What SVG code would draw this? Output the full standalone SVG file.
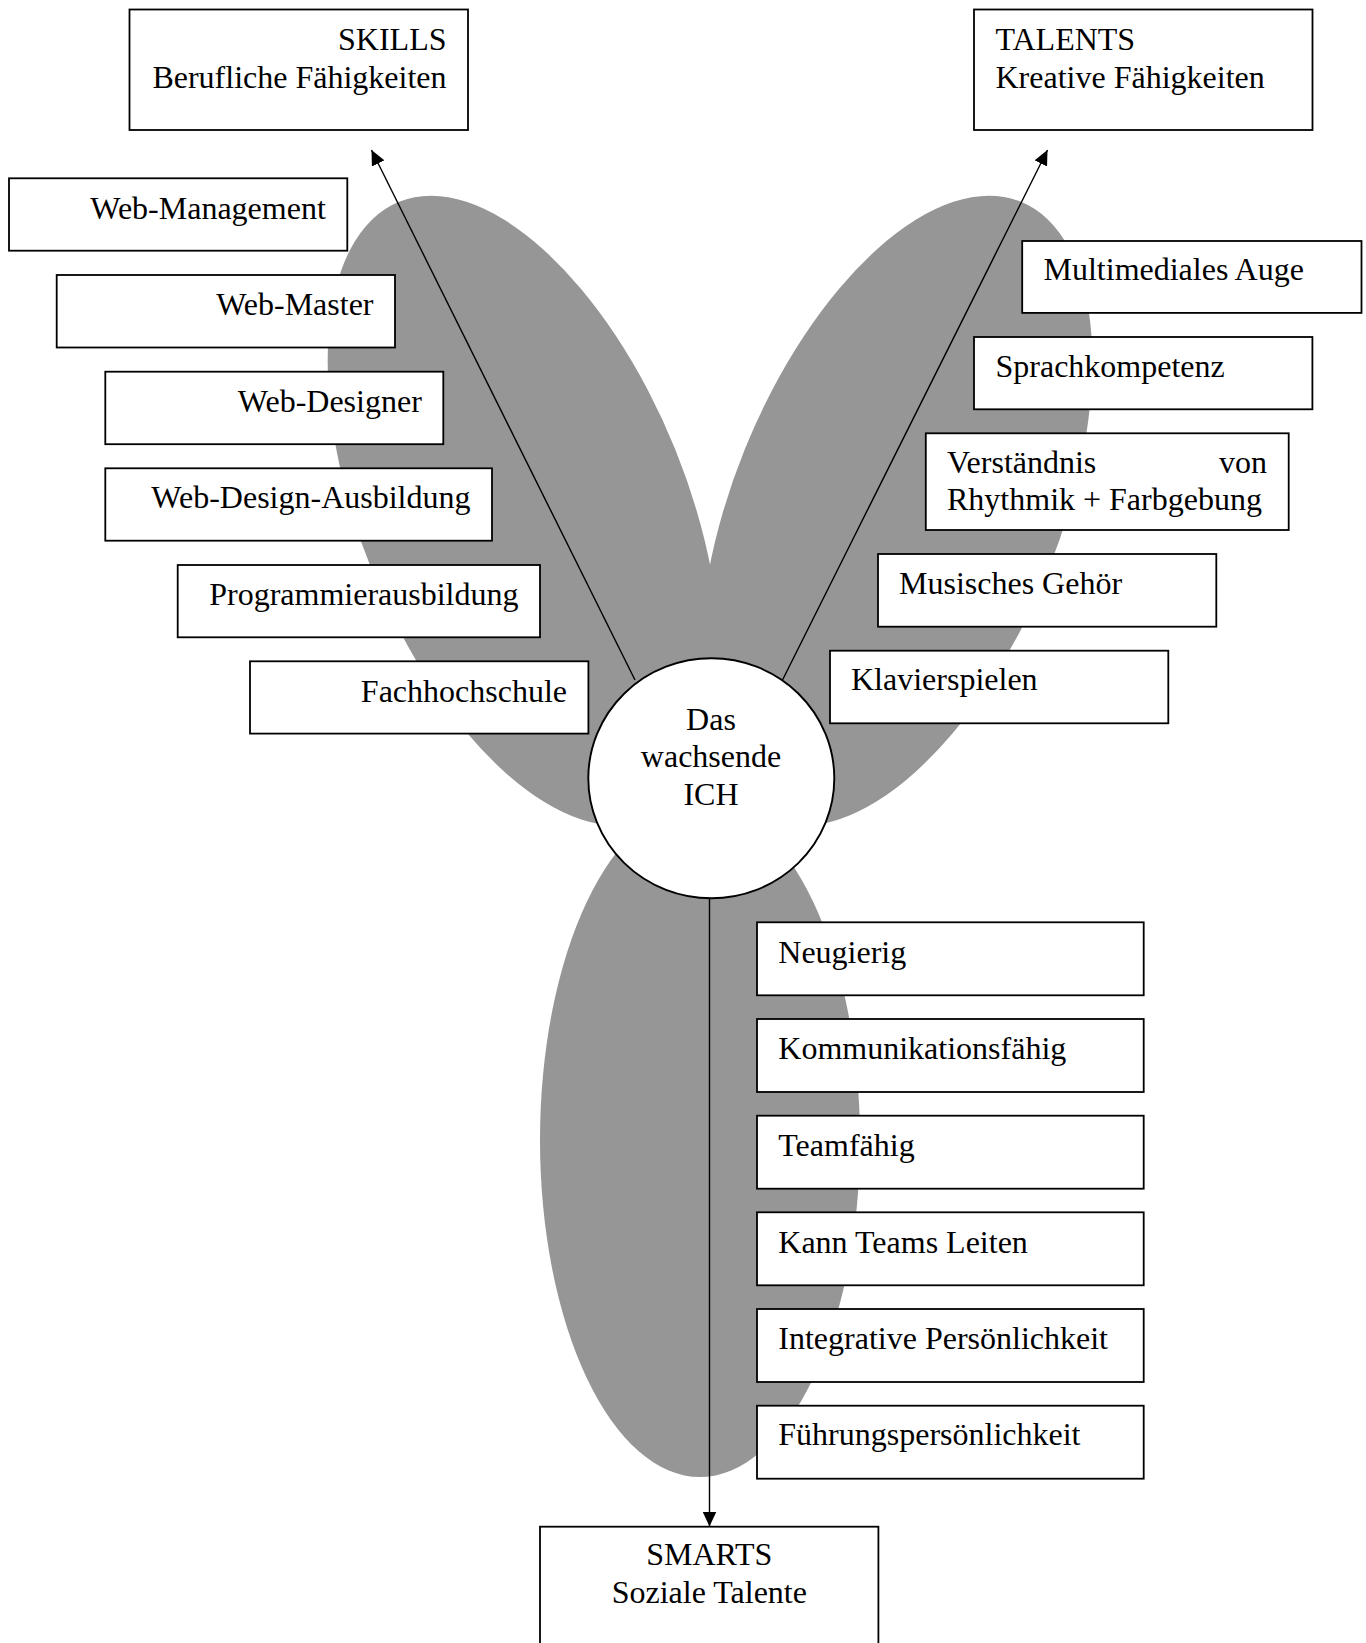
<svg xmlns="http://www.w3.org/2000/svg" width="1366" height="1643" viewBox="0 0 1366 1643">
  <style>
    .lobe { fill: #969696; stroke: none; }
    .box { fill: #ffffff; stroke: #000000; stroke-width: 1.8; }
    .core { fill: #ffffff; stroke: #000000; stroke-width: 1.9; }
    .edge { fill: none; stroke: #000000; stroke-width: 1.4; marker-end: url(#arrow); }
    text { font-family: "Liberation Serif", "Times New Roman", serif; font-size: 32px; fill: #000000; }
    .r { text-anchor: end; }
    .c { text-anchor: middle; }
  </style>
  <defs>
    <marker id="arrow" viewBox="0 0 15 14" refX="15" refY="7" markerWidth="15" markerHeight="14" markerUnits="userSpaceOnUse" orient="auto">
      <path d="M0,0 L15,7 L0,14 z" fill="#000000"/>
    </marker>
  </defs>

  <rect x="0" y="0" width="1366" height="1643" fill="#ffffff"/>

  <!-- grey petals behind the centre -->
  <g id="petals">
    <ellipse class="lobe" cx="0" cy="0" rx="163.3" ry="333.2" transform="translate(523.9,510.7) rotate(-22)"/>
    <ellipse class="lobe" cx="0" cy="0" rx="163.3" ry="333.2" transform="translate(896.1,510.7) rotate(22)"/>
    <ellipse class="lobe" cx="700" cy="1140" rx="160" ry="337"/>
  </g>

  <!-- arrows from the centre to the three categories -->
  <g id="connectors">
    <line class="edge" x1="635" y1="680" x2="371.5" y2="150"/>
    <line class="edge" x1="782.5" y1="680" x2="1047.5" y2="150"/>
    <line class="edge" x1="709.5" y1="898" x2="709.5" y2="1526.5"/>
  </g>

  <!-- category boxes -->
  <g id="skills">
    <rect class="box" x="129.5" y="9.5" width="338.5" height="120.5"/>
    <text class="r" x="446.5" y="49.5">SKILLS</text>
    <text class="r" x="446.5" y="87.5">Berufliche Fähigkeiten</text>
  </g>
  <g id="talents">
    <rect class="box" x="974" y="9.5" width="338.5" height="120.5"/>
    <text x="995.5" y="49.5">TALENTS</text>
    <text x="995.5" y="87.5">Kreative Fähigkeiten</text>
  </g>
  <g id="smarts">
    <rect class="box" x="540" y="1526.7" width="338.4" height="125"/>
    <text class="c" x="709.3" y="1565">SMARTS</text>
    <text class="c" x="709.3" y="1602.7">Soziale Talente</text>
  </g>

  <!-- professional skills -->
  <g id="web-management">
    <rect class="box" x="9" y="178.3" width="338.3" height="72.4"/>
    <text class="r" x="325.8" y="218.5">Web-Management</text>
  </g>
  <g id="web-master">
    <rect class="box" x="56.7" y="275" width="338.3" height="72.5"/>
    <text class="r" x="373.5" y="315">Web-Master</text>
  </g>
  <g id="web-designer">
    <rect class="box" x="105.3" y="371.7" width="338" height="72.5"/>
    <text class="r" x="421.8" y="411.5">Web-Designer</text>
  </g>
  <g id="web-design-ausbildung">
    <rect class="box" x="105.3" y="468.3" width="386.7" height="72.4"/>
    <text class="r" x="470.5" y="508.3">Web-Design-Ausbildung</text>
  </g>
  <g id="programmierausbildung">
    <rect class="box" x="177.7" y="565" width="362.3" height="72.3"/>
    <text class="r" x="518.5" y="605">Programmierausbildung</text>
  </g>
  <g id="fachhochschule">
    <rect class="box" x="250" y="661.3" width="338.4" height="72.3"/>
    <text class="r" x="567" y="701.5">Fachhochschule</text>
  </g>

  <!-- creative talents -->
  <g id="multimediales-auge">
    <rect class="box" x="1022.2" y="241" width="339.3" height="71.9"/>
    <text x="1043.5" y="280">Multimediales Auge</text>
  </g>
  <g id="sprachkompetenz">
    <rect class="box" x="974" y="337" width="338.4" height="72.3"/>
    <text x="995.5" y="377">Sprachkompetenz</text>
  </g>
  <g id="verstaendnis">
    <rect class="box" x="925.8" y="433.3" width="362.9" height="96.7"/>
    <text x="947" y="472.7">Verständnis</text>
    <text class="r" x="1267" y="472.7">von</text>
    <text x="947" y="510">Rhythmik + Farbgebung</text>
  </g>
  <g id="musisches-gehoer">
    <rect class="box" x="878" y="554" width="338.3" height="72.7"/>
    <text x="899" y="594.3">Musisches Gehör</text>
  </g>
  <g id="klavierspielen">
    <rect class="box" x="830" y="650.7" width="338.3" height="72.6"/>
    <text x="851" y="690">Klavierspielen</text>
  </g>

  <!-- social talents -->
  <g id="neugierig">
    <rect class="box" x="757" y="922.3" width="386.7" height="73"/>
    <text x="778.3" y="963">Neugierig</text>
  </g>
  <g id="kommunikationsfaehig">
    <rect class="box" x="757" y="1019" width="386.7" height="73"/>
    <text x="778.3" y="1059.3">Kommunikationsfähig</text>
  </g>
  <g id="teamfaehig">
    <rect class="box" x="757" y="1115.7" width="386.7" height="73"/>
    <text x="778.3" y="1155.5">Teamfähig</text>
  </g>
  <g id="kann-teams-leiten">
    <rect class="box" x="757" y="1212.3" width="386.7" height="73"/>
    <text x="778.3" y="1252.5">Kann Teams Leiten</text>
  </g>
  <g id="integrative-persoenlichkeit">
    <rect class="box" x="757" y="1309" width="386.7" height="73"/>
    <text x="778.3" y="1348.5">Integrative Persönlichkeit</text>
  </g>
  <g id="fuehrungspersoenlichkeit">
    <rect class="box" x="757" y="1405.7" width="386.7" height="73"/>
    <text x="778.3" y="1445">Führungspersönlichkeit</text>
  </g>

  <!-- centre -->
  <g id="ich">
    <ellipse class="core" cx="711.3" cy="778.3" rx="123" ry="120"/>
    <text class="c" x="711" y="730">Das</text>
    <text class="c" x="711" y="767">wachsende</text>
    <text class="c" x="711" y="804.5">ICH</text>
  </g>
</svg>
